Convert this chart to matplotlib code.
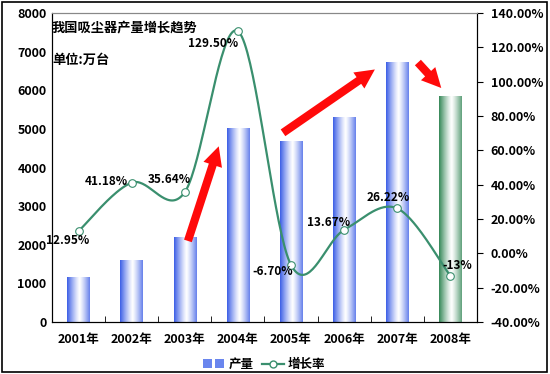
import numpy as np
import matplotlib
matplotlib.use("Agg")
import matplotlib.pyplot as plt
from matplotlib.patches import Rectangle
from matplotlib.lines import Line2D
from matplotlib.legend_handler import HandlerBase

plt.rcParams['font.family'] = ['Noto Sans CJK SC', 'DejaVu Sans']

years = ["2001年", "2002年", "2003年", "2004年", "2005年", "2006年", "2007年", "2008年"]
output = [1150, 1600, 2180, 5000, 4670, 5300, 6720, 5830]
growth = [12.95, 41.18, 35.64, 129.50, -6.70, 13.67, 26.22, -13.0]
growth_labels = ["12.95%", "41.18%", "35.64%", "129.50%", "-6.70%", "13.67%", "26.22%", "-13%"]
label_offsets = [(-8, -7), (-18, 1), (-11, 9.5), (-18, -9), (-13, -5), (-11, 5), (-6.5, 8), (5, 7)]

fig = plt.figure(figsize=(5.5, 3.74), dpi=100)
fig.patch.set_facecolor('white')
fig.add_artist(Rectangle((0.004, 0.006), 0.99, 0.988, transform=fig.transFigure,
                         fill=False, edgecolor='black', lw=1.2))
ax = fig.add_axes([0.0945, 0.139, 0.7725, 0.826])
ax2 = ax.twinx()

n = len(years)
x = np.arange(n)
w = 0.42

def grad_img(c_edge):
    c_edge = np.array(matplotlib.colors.to_rgb(c_edge))
    t = np.linspace(0, 1, 64)
    f = np.abs(t - 0.55) / 0.55
    f = np.clip(f, 0, 1) ** 1.2
    img = (1 - f)[:, None] * np.ones(3) + f[:, None] * c_edge
    return img[None, :, :]

blue_img = grad_img('#3d5fe6')
green_img = grad_img('#358858')
for i in range(n):
    img = green_img if i == n - 1 else blue_img
    ax.imshow(img, extent=[x[i] - w / 2, x[i] + w / 2, 0, output[i]],
              aspect='auto', interpolation='bilinear', zorder=2)

ax.set_xlim(-0.5, n - 0.5)
ax.set_ylim(0, 8000)
ax.set_yticks(np.arange(0, 8001, 1000))
ax.set_yticklabels([str(v) for v in range(0, 8001, 1000)], fontsize=9, fontweight='bold')
ax.set_xticks(x)
ax.set_xticklabels(years, fontsize=9, fontweight='bold')
ax.tick_params(axis='x', length=0, pad=8)
ax.set_xticks(np.arange(-0.5, n, 1), minor=True)
ax.tick_params(axis='x', which='minor', length=4, direction='in')
ax.tick_params(axis='y', length=0, pad=4)
ax.spines['top'].set_color('#888888')
ax.spines['left'].set_color('black')
ax.spines['bottom'].set_color('black')
ax.spines['right'].set_color('black')

# smooth line (Excel-like Bezier) in normalized coordinates
ylo, yhi = -40, 140
px = (x + 0.5) / n
py = (np.array(growth) - ylo) / (yhi - ylo)
P = np.column_stack([px, py])
curve = []
for i in range(n - 1):
    p0 = P[i - 1] if i > 0 else P[i]
    p1, p2 = P[i], P[i + 1]
    p3 = P[i + 2] if i + 2 < n else P[i + 1]
    c1 = p1 + (p2 - p0) / 6
    c2 = p2 - (p3 - p1) / 6
    t = np.linspace(0, 1, 40)[:, None]
    seg = (1 - t) ** 3 * p1 + 3 * (1 - t) ** 2 * t * c1 + 3 * (1 - t) * t ** 2 * c2 + t ** 3 * p2
    curve.append(seg)
curve = np.vstack(curve)
cx = curve[:, 0] * n - 0.5
cy = curve[:, 1] * (yhi - ylo) + ylo
lc = '#3a8f6e'
ax2.plot(cx, cy, color=lc, lw=1.6, zorder=3)
ax2.plot(x, growth, linestyle='none', marker='o', ms=5.5, mfc='white', mec=lc, mew=0.8, zorder=4)
ax2.set_ylim(ylo, yhi)
ax2.set_yticks(np.arange(-40, 141, 20))
ax2.set_yticklabels([f"{v:.2f}%" for v in range(-40, 141, 20)], fontsize=9, fontweight='bold')
ax2.tick_params(axis='y', length=4, direction='out', pad=6)
ax2.spines['top'].set_color('#888888')

for i in range(n):
    ax2.annotate(growth_labels[i], (x[i], growth[i]), xytext=label_offsets[i],
                 textcoords='offset points', ha='center', va='center',
                 fontsize=8.5, fontweight='bold', zorder=5)

# red arrows
arrows = [((2.06, 2100), (2.64, 4550)), ((3.85, 4900), (5.58, 6540)), ((6.39, 6720), (6.83, 6060))]
for (x0, y0), (x1, y1) in arrows:
    ax.annotate('', xy=(x1, y1), xytext=(x0, y0),
                arrowprops=dict(arrowstyle='simple,head_length=1.0,head_width=1.0,tail_width=0.42',
                                color='#ff0a0a', lw=0, mutation_scale=14,
                                shrinkA=0, shrinkB=0), zorder=6)

ax.text(0.0, 0.955, "我国吸尘器产量增长趋势", transform=ax.transAxes, fontsize=9.5,
        fontweight='bold', va='center', ha='left', zorder=7)
ax.text(0.0, 0.85, "单位:万台", transform=ax.transAxes, fontsize=9.5,
        fontweight='bold', va='center', ha='left', zorder=7)

class GradHandler(HandlerBase):
    def create_artists(self, legend, orig, xd, yd, width, height, fontsize, trans):
        arts = []
        for k in range(2):
            r = Rectangle((xd + k * width * 0.55, yd), width * 0.4, height, transform=trans,
                          facecolor='#6a86ee', edgecolor='none')
            arts.append(r)
        return arts

bar_handle = Rectangle((0, 0), 1, 1)
line_handle = Line2D([], [], color=lc, lw=1.6, marker='o', mfc='white', mec=lc, ms=5)
fig.legend([bar_handle, line_handle], ["产量", "增长率"], handler_map={bar_handle: GradHandler()},
           loc='center', bbox_to_anchor=(0.48, 0.025), ncol=2, frameon=False,
           prop={'size': 9, 'weight': 'bold'}, handlelength=1.8, columnspacing=0.6, handletextpad=0.3)

fig.savefig("out.png", dpi=100, facecolor='white')
